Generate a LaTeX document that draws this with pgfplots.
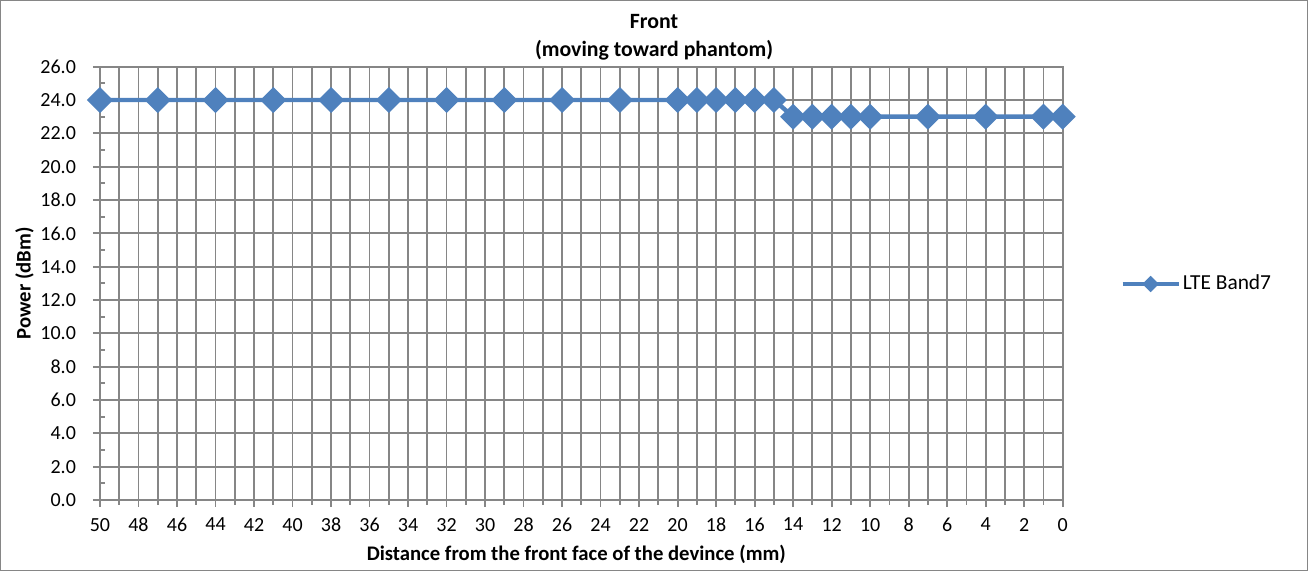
\documentclass[border=0pt]{standalone}
\usepackage{pgfplots}
\pgfplotsset{compat=1.18}
\usepackage{fontspec}
\setmainfont{Carlito}
\definecolor{lteblue}{RGB}{79,129,189}
\definecolor{gridgray}{RGB}{134,134,134}
\begin{document}
\begin{tikzpicture}
\draw[gridgray, line width=0.6pt] (0.3pt,0.3pt) rectangle (653.7pt,285.2pt);
\begin{axis}[
  at={(50pt,35.5pt)}, anchor=south west,
  scale only axis, width=481.35pt, height=216.65pt,
  x dir=reverse, xmin=0, xmax=50, ymin=0, ymax=26,
  xtick={0,2,...,50}, minor xtick={1,3,...,49},
  ytick={0,2,...,26}, minor ytick={1,3,...,25},
  xmajorgrids, xminorgrids, ymajorgrids,
  grid style={gridgray, line width=0.9pt},
  minor grid style={gridgray, line width=0.9pt},
  axis line style={gridgray, line width=0.9pt},
  tick style={gridgray, line width=0.9pt},
  tick align=outside,
  xtick pos=bottom, ytick pos=left,
  major tick length=3.5pt, minor tick length=2.5pt,
  minor y tick style={xshift=2.5pt},
  /pgf/number format/assume math mode=true,
  yticklabel style={/pgf/number format/fixed, /pgf/number format/fixed zerofill, /pgf/number format/precision=1, xshift=-5pt},
  ticklabel style={font=\fontsize{10}{12}\selectfont, text=black},
  xticklabel style={yshift=-2pt},
  title={Front\\(moving toward phantom)},
  title style={at={(0.5755,1)}, align=center, font=\fontsize{10.9}{14}\selectfont\bfseries, yshift=-6.5pt},
  xlabel={Distance from the front face of the devince (mm)},
  ylabel={Power (dBm)},
  ylabel shift=-3.5pt,
  xlabel style={xshift=-2.5pt},
  label style={font=\fontsize{10.35}{12}\selectfont\bfseries},
  legend style={draw=none, fill=none, at={(1.0595,0.4985)}, anchor=west, inner sep=0pt, font=\fontsize{10.7}{12}\selectfont, nodes={inner xsep=1pt}},
  legend image code/.code={\draw[#1, mark size=1.8pt, mark repeat=2, mark phase=2] plot coordinates {(0pt,0pt) (14pt,0pt) (28pt,0pt)};},
]
\addplot[color=lteblue, line width=2.2pt, mark=square*, mark size=3.5pt, mark options={rotate=45, solid, fill=lteblue}]
coordinates {
(50,24) (47,24) (44,24) (41,24) (38,24) (35,24) (32,24) (29,24) (26,24) (23,24)
(20,24) (19,24) (18,24) (17,24) (16,24) (15,24)
(14,23) (13,23) (12,23) (11,23) (10,23) (7,23) (4,23) (1,23) (0,23)
};
\addlegendentry{LTE Band7}
\end{axis}
\end{tikzpicture}
\end{document}
